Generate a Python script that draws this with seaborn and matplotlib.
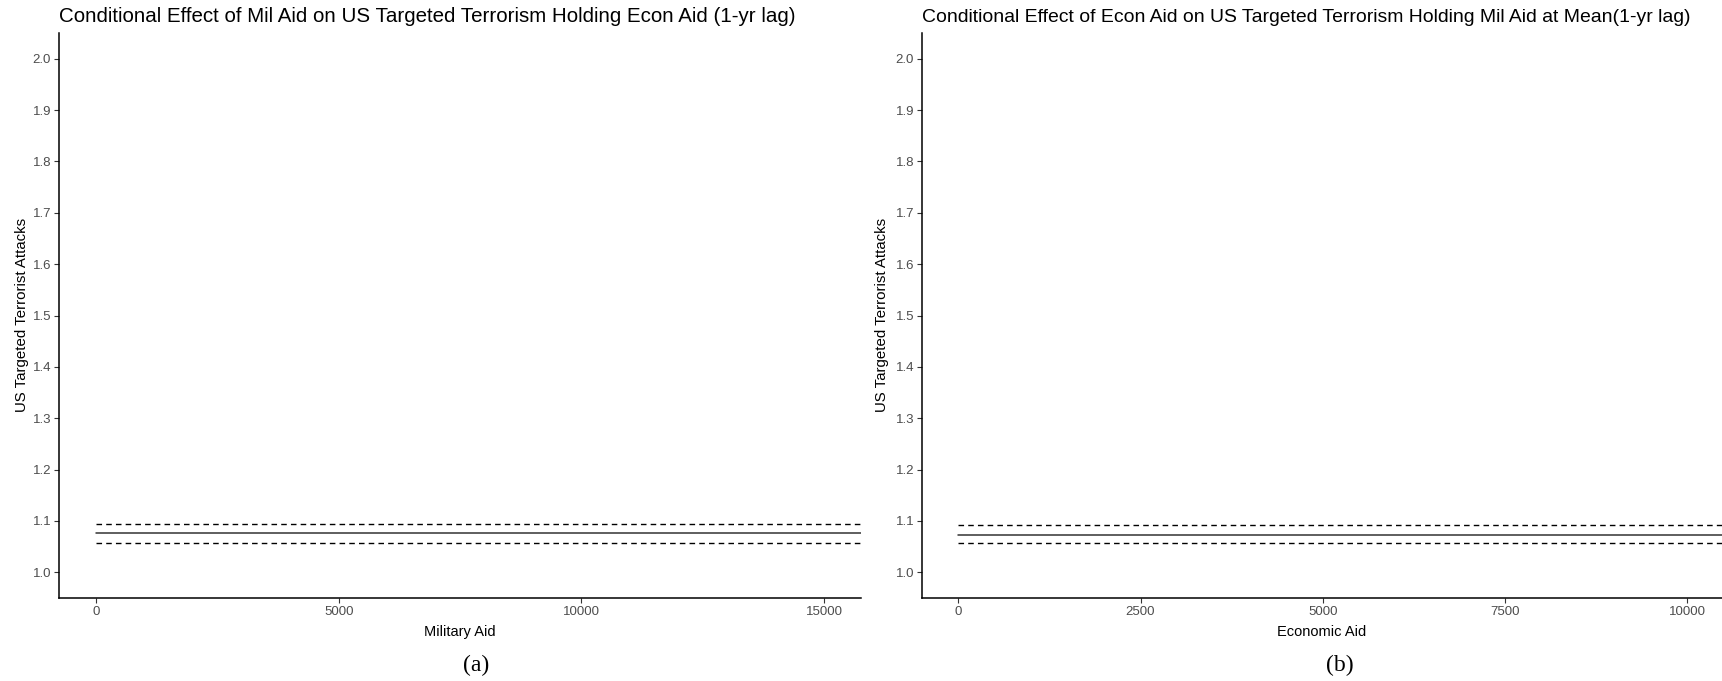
import matplotlib
matplotlib.use("Agg")
import matplotlib.pyplot as plt
import numpy as np
import pandas as pd
import seaborn as sns

# Predicted values across the range of each aid variable (constant effect)
mil_aid = [0, 16500]
mil_fit = [1.076, 1.076]
mil_lower = [1.057, 1.057]
mil_upper = [1.095, 1.095]

econ_aid = [0, 11000]
econ_fit = [1.0735, 1.0735]
econ_lower = [1.057, 1.057]
econ_upper = [1.093, 1.093]

mil_ticks = [0, 5000, 10000, 15000]
econ_ticks = [0, 2500, 5000, 7500, 10000]
y_ticks = [1.0, 1.1, 1.2, 1.3, 1.4, 1.5, 1.6, 1.7, 1.8, 1.9, 2.0]

titles = [
    "Conditional Effect of Mil Aid on US Targeted Terrorism Holding Econ Aid (1-yr lag)",
    "Conditional Effect of Econ Aid on US Targeted Terrorism Holding Mil Aid at Mean(1-yr lag)",
]
x_labels = ["Military Aid", "Economic Aid"]
y_label = "US Targeted Terrorist Attacks"
captions = ["(a)", "(b)"]

sns.set_theme(style="ticks")
plt.rcParams["font.family"] = ["Liberation Sans", "DejaVu Sans"]

W, H = 1722, 681
fig = plt.figure(figsize=(W / 100, H / 100), dpi=100)


def px_axes(left, right, top, bottom):
    return fig.add_axes([left / W, 1 - bottom / H, (right - left) / W, (bottom - top) / H])


panels = [
    dict(ax=px_axes(59, 861, 33, 598), x=mil_aid, fit=mil_fit, lo=mil_lower, hi=mil_upper,
         xticks=mil_ticks, xlim=(-762, 15757), cap_x=476, ylab_x=22, title_size=14.8),
    dict(ax=px_axes(922, 1722, 33, 598), x=econ_aid, fit=econ_fit, lo=econ_lower, hi=econ_upper,
         xticks=econ_ticks, xlim=(-500, 10481), cap_x=1340, ylab_x=882, title_size=13.95),
]

for i, p in enumerate(panels):
    ax = p["ax"]
    df = pd.DataFrame({"x": p["x"], "fit": p["fit"], "lo": p["lo"], "hi": p["hi"]})
    sns.lineplot(data=df, x="x", y="hi", ax=ax, color="black", linewidth=1.0,
                 linestyle=(0, (4, 3)))
    sns.lineplot(data=df, x="x", y="fit", ax=ax, color="#333333", linewidth=1.1)
    sns.lineplot(data=df, x="x", y="lo", ax=ax, color="black", linewidth=1.0,
                 linestyle=(0, (4, 3)))

    ax.set_xlim(*p["xlim"])
    ax.set_ylim(0.95, 2.05)
    ax.set_xticks(p["xticks"])
    ax.set_xticklabels([str(t) for t in p["xticks"]])
    ax.set_yticks(y_ticks)
    ax.set_yticklabels([f"{t:.1f}" for t in y_ticks])

    for side in ("top", "right"):
        ax.spines[side].set_visible(False)
    for side in ("left", "bottom"):
        ax.spines[side].set_color("black")
        ax.spines[side].set_linewidth(1.1)

    ax.tick_params(axis="both", length=3.5, width=0.8, color="#333333",
                   labelcolor="#4D4D4D", labelsize=9.5, pad=2.2)

    ax.set_xlabel(x_labels[i], fontsize=10.5, color="black", labelpad=5)
    ax.set_ylabel("")
    fig.text(p["ylab_x"] / W, 1 - 315 / H, y_label, rotation=90, ha="center", va="center",
             fontsize=10.8, color="black")

    left_px = p["ax"].get_position().x0 * W
    fig.text(left_px / W, 1 - 17 / H, titles[i], ha="left", va="center",
             fontsize=p["title_size"], color="black")
    fig.text(p["cap_x"] / W, 1 - 665 / H, captions[i], ha="center", va="center",
             fontsize=17, color="black", family=["Liberation Serif", "DejaVu Serif"])

fig.savefig("out.png", dpi=100)
